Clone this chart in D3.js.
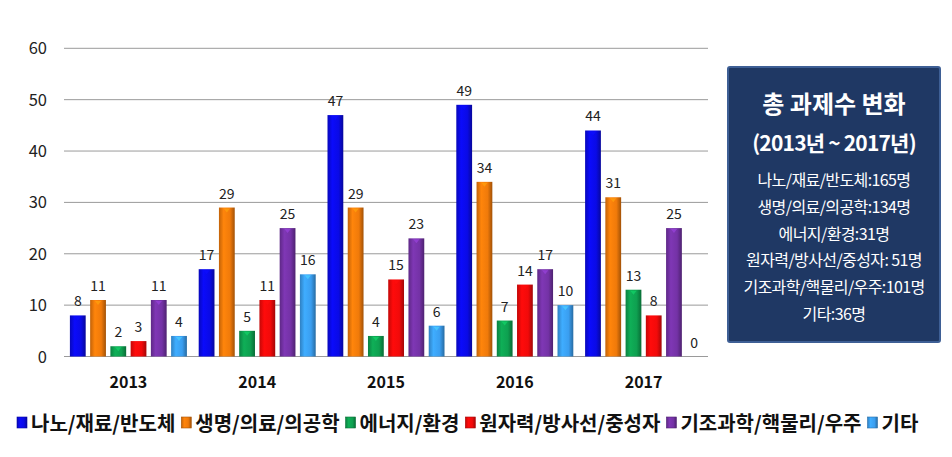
<!DOCTYPE html>
<html>
<head>
<meta charset="utf-8">
<script src="https://d3js.org/d3.v7.min.js"></script>
<style>
  body { margin: 0; padding: 0; background: #fff; }
  text { font-family: "Noto Sans CJK KR", "Noto Sans", sans-serif; }
</style>
</head>
<body>
<div id="chart"></div>
<script>
var years = ["2013", "2014", "2015", "2016", "2017"];
var fields = ["나노/재료/반도체", "생명/의료/의공학", "에너지/환경", "원자력/방사선/중성자", "기조과학/핵물리/우주", "기타"];
var nano   = [8, 17, 47, 49, 44];
var bio    = [11, 29, 29, 34, 31];
var energy = [2, 5, 4, 7, 13];
var nuke   = [3, 11, 15, 14, 8];
var basic  = [11, 25, 23, 17, 25];
var etc    = [4, 16, 6, 10, 0];
var yTicks = [0, 10, 20, 30, 40, 50, 60];
var boxTitle = ["총 과제수 변화", "(2013년 ~ 2017년)"];
var boxLines = ["나노/재료/반도체:165명", "생명/의료/의공학:134명", "에너지/환경:31명",
                "원자력/방사선/중성자: 51명", "기조과학/핵물리/우주:101명", "기타:36명"];

var series = [nano, bio, energy, nuke, basic, etc];
var colors = ["#0a0ae6", "#f07a0a", "#0ea050", "#f20a0a", "#7432a6", "#3a9ef0"];

var width = 952, height = 457;
var svg = d3.select("#chart").append("svg")
    .attr("width", width)
    .attr("height", height);

// gradients for the rounded bar look
var defs = svg.append("defs");
colors.forEach(function(c, i) {
    var g = defs.append("linearGradient").attr("id", "g" + i)
        .attr("x1", "0%").attr("x2", "100%").attr("y1", "0%").attr("y2", "0%");
    var base = d3.color(c);
    g.append("stop").attr("offset", "0%").attr("stop-color", base.darker(0.6));
    g.append("stop").attr("offset", "30%").attr("stop-color", base.brighter(0.25));
    g.append("stop").attr("offset", "70%").attr("stop-color", base);
    g.append("stop").attr("offset", "100%").attr("stop-color", base.darker(1.1));
});

var x = d3.scaleBand().domain(years).range([64, 708]).padding(0);
var x1 = d3.scaleBand().domain(d3.range(fields.length)).range([-58.5, 58.5]).paddingInner(0.22);
var y = d3.scaleLinear().domain([0, 60]).range([356.5, 48.3]);

// grid
svg.append("g").selectAll("line")
    .data(yTicks).enter().append("line")
    .attr("x1", 64).attr("x2", 708)
    .attr("y1", function(d) { return y(d); })
    .attr("y2", function(d) { return y(d); })
    .attr("stroke", "#9a9a9a")
    .attr("stroke-width", 1);

// y labels
svg.append("g").selectAll("text")
    .data(yTicks).enter().append("text")
    .attr("x", 47)
    .attr("y", function(d) { return y(d) + 6; })
    .attr("text-anchor", "end")
    .style("font-size", "16.5px")
    .attr("fill", "#222")
    .text(function(d) { return d; });

// x labels
svg.append("g").selectAll("text")
    .data(years).enter().append("text")
    .attr("x", function(d) { return x(d) + x.bandwidth() / 2; })
    .attr("y", 388)
    .attr("text-anchor", "middle")
    .style("font-size", "16px")
    .style("font-weight", "bold")
    .attr("fill", "#111")
    .text(function(d) { return d; });

// bars
var groups = svg.append("g").selectAll("g")
    .data(years).enter().append("g")
    .attr("transform", function(d) { return "translate(" + (x(d) + x.bandwidth() / 2) + ",0)"; });

groups.each(function(yr, yi) {
    var g = d3.select(this);
    series.forEach(function(s, si) {
        var v = s[yi];
        var bx = x1(si);
        if (v > 0) {
            g.append("rect")
                .attr("x", bx)
                .attr("y", y(v))
                .attr("width", x1.bandwidth())
                .attr("height", y(0) - y(v))
                .attr("fill", "url(#g" + si + ")");
            g.append("path")
                .attr("d", "M" + (bx + x1.bandwidth() * 0.3) + "," + (y(v) + 1) +
                           "L" + (bx + x1.bandwidth() * 0.7) + "," + (y(v) + 1) +
                           "L" + (bx + x1.bandwidth() * 0.5) + "," + (y(v) + 5) + "Z")
                .attr("fill", d3.color(colors[si]).brighter(0.8))
                .attr("opacity", 0.7);
        }
        g.append("text")
            .attr("x", bx + x1.bandwidth() / 2)
            .attr("y", y(v) - 9)
            .attr("text-anchor", "middle")
            .style("font-size", "14px")
            .attr("fill", "#222")
            .text(v);
    });
});

// summary box
var box = svg.append("g");
box.append("rect")
    .attr("x", 728).attr("y", 67)
    .attr("width", 212).attr("height", 275)
    .attr("rx", 2)
    .attr("fill", "#1f3864")
    .attr("stroke", "#3e5f95")
    .attr("stroke-width", 2);
box.selectAll(".bt").data(boxTitle).enter().append("text")
    .attr("class", "bt")
    .attr("x", 834)
    .attr("y", function(d, i) { return 113 + i * 38; })
    .attr("text-anchor", "middle")
    .style("font-size", function(d, i) { return i == 0 ? "24px" : "21px"; })
    .style("font-weight", "bold")
    .style("letter-spacing", function(d, i) { return i == 0 ? "0px" : "-0.8px"; })
    .attr("fill", "#fff")
    .text(function(d) { return d; });
box.selectAll(".bl").data(boxLines).enter().append("text")
    .attr("class", "bl")
    .attr("x", 834)
    .attr("y", function(d, i) { return 186 + i * 26.8; })
    .attr("text-anchor", "middle")
    .style("font-size", "16px")
    .style("letter-spacing", "-0.6px")
    .attr("fill", "#fff")
    .text(function(d) { return d; });

// legend
var legend = svg.append("g");
var lx = 17;
fields.forEach(function(f, i) {
    legend.append("rect")
        .attr("x", lx).attr("y", 417)
        .attr("width", 10).attr("height", 11)
        .attr("fill", "url(#g" + i + ")")
        .attr("stroke", d3.color(colors[i]).darker(1))
        .attr("stroke-width", 0.6);
    var t = legend.append("text")
        .attr("x", lx + 14)
        .attr("y", 431)
        .style("font-size", "20px")
        .style("font-weight", "bold")
        .attr("fill", "#111")
        .text(f);
    lx += 14 + t.node().getComputedTextLength() + 6;
});
</script>
</body>
</html>
